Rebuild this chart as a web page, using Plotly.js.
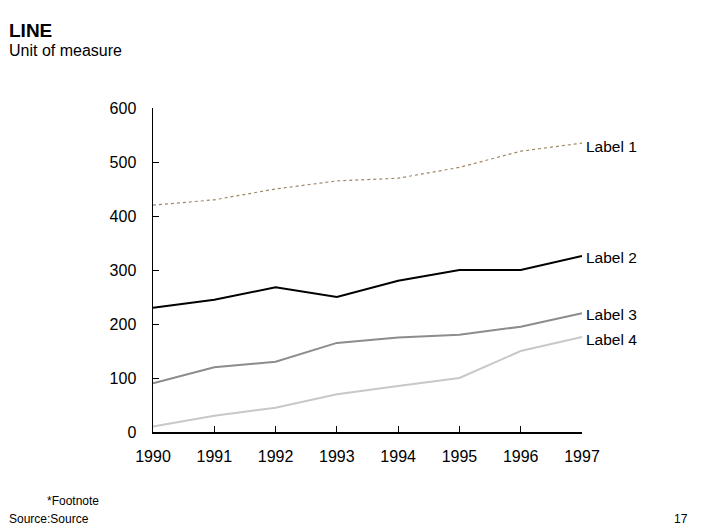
<!DOCTYPE html>
<html><head><meta charset="utf-8">
<script src="https://cdn.plot.ly/plotly-3.0.1.min.js"></script>
<style>html,body{margin:0;padding:0;background:#fff}#chart{width:706px;height:529px}</style>
</head><body><div id="chart"></div>
<script>
const years = [1990,1991,1992,1993,1994,1995,1996,1997];
const label1 = [420,430,450,465,470,490,520,535];
const label2 = [230,245,268,250,280,300,300,326];
const label3 = [90,120,130,165,175,180,195,220];
const label4 = [10,30,45,70,85,100,150,176];
const seriesNames = ['Label 1','Label 2','Label 3','Label 4'];
const yTicks = [0,100,200,300,400,500,600];

const FONT = 'Liberation Sans, Arial, sans-serif';
const L = 153, T = 108, W = 429, H = 324;
const px = x => (x - L) / W;
const py = y => (T + H - y) / H;

const styles = [
  {color:'#a08868', width:1.2, dash:'dot'},
  {color:'#000000', width:2, dash:'solid'},
  {color:'#8c8c8c', width:2, dash:'solid'},
  {color:'#c8c8c8', width:2, dash:'solid'}
];
const data = [label1,label2,label3,label4].map((v,i)=>({
  x: years, y: v, type:'scatter', mode:'lines', name: seriesNames[i],
  line: styles[i], hoverinfo:'skip'
}));
const labelShift = [-3, -2, -1, -3];
const annotations = [label1,label2,label3,label4].map((v,i)=>({
  x: years[years.length-1], y: v[v.length-1], xref:'x', yref:'y',
  text: seriesNames[i], showarrow:false, xanchor:'left', yanchor:'middle',
  xshift: 2, yshift: labelShift[i], font:{family:FONT, size:15.5, color:'#000'}
}));
annotations.push(
  {xref:'paper', yref:'paper', x:px(7), y:py(50), xanchor:'left', yanchor:'middle', showarrow:false,
   text:'Unit of measure', font:{family:FONT, size:16, color:'#000'}},
  {xref:'paper', yref:'paper', x:px(45), y:py(501), xanchor:'left', yanchor:'middle', showarrow:false,
   text:'*Footnote', font:{family:FONT, size:12, color:'#000'}},
  {xref:'paper', yref:'paper', x:px(7), y:py(519), xanchor:'left', yanchor:'middle', showarrow:false,
   text:'Source:Source', font:{family:FONT, size:12, color:'#000'}},
  {xref:'paper', yref:'paper', x:px(690), y:py(519), xanchor:'right', yanchor:'middle', showarrow:false,
   text:'17', font:{family:FONT, size:12, color:'#000'}}
);

const layout = {
  width:706, height:529,
  margin:{l:L, r:706-L-W, t:T, b:529-T-H, pad:0},
  paper_bgcolor:'#fff', plot_bgcolor:'#fff',
  showlegend:false,
  title:{text:'<b>LINE</b>', xref:'container', yref:'container', x:9/706, y:1-30/529,
         xanchor:'left', yanchor:'middle', font:{family:FONT, size:19, color:'#000'}},
  xaxis:{range:[1990,1997], tickvals:years, ticktext:years.map(String),
         showgrid:false, zeroline:false, showline:true, linecolor:'#000', linewidth:1.5,
         ticks:'inside', ticklen:6, tickwidth:1, tickcolor:'#000',
         ticklabelstandoff:9,
         tickfont:{family:FONT, size:16, color:'#000'}, fixedrange:true},
  yaxis:{range:[0,600], tickvals:yTicks, showgrid:false, zeroline:false,
         showline:true, linecolor:'#000', linewidth:1.5,
         ticks:'inside', ticklen:6, tickwidth:1, tickcolor:'#000',
         ticklabelstandoff:12,
         tickfont:{family:FONT, size:16, color:'#000'}, fixedrange:true},
  annotations: annotations
};
Plotly.newPlot('chart', data, layout, {displayModeBar:false, staticPlot:true});
</script></body></html>
